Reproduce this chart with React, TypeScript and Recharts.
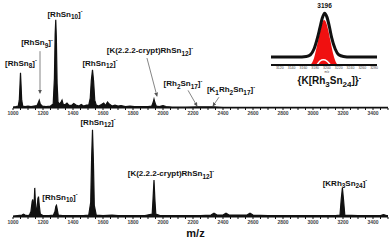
import React from "react";
import { AreaChart, Area, XAxis, YAxis, ReferenceDot, ReferenceLine, ComposedChart, Line } from "recharts";

// [m/z, relative intensity]
const upperTrace: [number, number][] = [
  [1000, 1], [1020, 1.5], [1035, 2], [1042, 8], [1047, 25], [1050, 36], [1053, 26], [1058, 8], [1065, 2],
  [1080, 1.5], [1100, 2], [1120, 1.5], [1140, 2], [1160, 2.5], [1168, 5], [1175, 8], [1182, 4], [1195, 2],
  [1220, 1.5], [1250, 2], [1268, 4], [1276, 30], [1281, 75], [1285, 90], [1289, 72], [1294, 25], [1300, 6],
  [1310, 4], [1320, 6], [1327, 8], [1334, 4], [1345, 3], [1360, 5], [1372, 3], [1390, 2.5], [1405, 4.5],
  [1420, 3], [1440, 2], [1455, 3.5], [1470, 2], [1490, 3], [1505, 3], [1515, 10], [1522, 28], [1530, 39],
  [1537, 28], [1545, 8], [1555, 3], [1570, 2], [1590, 3.5], [1605, 5], [1617, 2.5], [1630, 6], [1642, 4],
  [1660, 2], [1680, 3], [1700, 2], [1720, 2.5], [1750, 1.5], [1780, 2], [1810, 1.5], [1850, 1.5], [1900, 1.5],
  [1925, 2], [1933, 5], [1940, 9], [1947, 5], [1955, 2], [1975, 1.5], [2000, 2.5], [2020, 1.5], [2060, 1],
  [2150, 0.8], [2230, 1.2], [2340, 1.2], [2400, 0.6], [2600, 0.6], [3000, 0.6], [3500, 0.6],
];

const lowerTrace: [number, number][] = [
  [1000, 1], [1030, 1.5], [1060, 2], [1070, 3], [1080, 2], [1095, 1.5], [1110, 2], [1120, 6], [1128, 16],
  [1132, 18], [1137, 8], [1141, 14], [1145, 30], [1149, 16], [1155, 5], [1160, 8], [1166, 19], [1170, 21],
  [1175, 12], [1182, 3], [1200, 1.5], [1240, 1.5], [1270, 2], [1280, 6], [1286, 11], [1290, 12], [1295, 8],
  [1302, 2], [1330, 1.5], [1400, 1.5], [1470, 1.5], [1505, 2], [1518, 15], [1524, 60], [1530, 90], [1536, 58],
  [1542, 12], [1555, 2], [1600, 1.5], [1660, 2], [1700, 1.5], [1800, 1.5], [1880, 1.5], [1928, 3], [1934, 20],
  [1940, 38], [1946, 18], [1952, 3], [1980, 1.5], [2100, 1.5], [2250, 1.5], [2320, 2], [2340, 4], [2360, 2],
  [2400, 2], [2420, 4], [2440, 2], [2560, 2], [2580, 4], [2600, 2], [2700, 1.5], [2900, 1.5], [3000, 1.5],
  [3150, 1.5], [3180, 2], [3188, 18], [3196, 30], [3204, 17], [3212, 2], [3300, 1.5], [3450, 1.5],
  [3470, 2.5], [3490, 1.5], [3500, 1.5],
];

// inset: measured envelope (black) and simulated pattern (red)
const insetMeasured: [number, number][] = [
  [3105, 14], [3150, 14], [3165, 15], [3172, 18], [3178, 28], [3184, 48], [3188, 65], [3192, 82], [3196, 91],
  [3200, 84], [3204, 68], [3208, 48], [3214, 28], [3220, 18], [3228, 15], [3240, 14], [3285, 14],
];
const insetSimulated: [number, number][] = [
  [3172, 0], [3178, 12], [3184, 38], [3188, 58], [3192, 74], [3195, 79], [3198, 76], [3202, 62], [3206, 42],
  [3210, 22], [3214, 8], [3218, 0],
];
const insetNotch: [number, number][] = [[3183, 0], [3188, 7], [3194, 9], [3200, 7], [3206, 0]];

const minorTicks = Array.from({ length: 51 }, (_, i) => 1000 + i * 50);
const insetTicks = [3120, 3140, 3160, 3180, 3200, 3220, 3240, 3260, 3280];

const upperLabels = [
  { text: "[RhSn_{8}]^{-}", mz: 1053, at: 43 },
  { text: "[RhSn_{9}]^{-}", mz: 1160, at: 64 },
  { text: "[RhSn_{10}]^{-}", mz: 1347, at: 93 },
  { text: "[RhSn_{12}]^{-}", mz: 1580, at: 43 },
  { text: "[K(2.2.2-crypt)RhSn_{12}]^{-}", mz: 1913, at: 56 },
  { text: "[Rh_{2}Sn_{17}]^{-}", mz: 2133, at: 22 },
  { text: "[K_{1}Rh_{2}Sn_{17}]^{-}", mz: 2453, at: 16 },
];
const upperArrows = [
  { from: [1180, 58], to: [1180, 15] },
  { from: [1893, 51], to: [1960, 12] },
  { from: [2167, 18], to: [2227, 2] },
  { from: [2373, 11], to: [2333, 2] },
];
const lowerLabels = [
  { text: "[RhSn_{10}]^{-}", mz: 1313, at: 17.5 },
  { text: "[RhSn_{12}]^{-}", mz: 1567, at: 95 },
  { text: "[K(2.2.2-crypt)RhSn_{12}]^{-}", mz: 2053, at: 42 },
  { text: "[KRh_{3}Sn_{24}]^{-}", mz: 3213, at: 32 },
];

const toPoints = (arr: [number, number][]) => arr.map(([mz, i]) => ({ mz, i }));
const FONT = "Arial, 'Liberation Sans', sans-serif";

function Chem({ x, y, text, size = 8 }: { x: number; y: number; text: string; size?: number }) {
  const parts = text.split(/(_\{[^}]*\}|\^\{[^}]*\})/).filter(Boolean);
  let shift = 0;
  const spans = parts.map((p, k) => {
    let target = 0;
    let content = p;
    let fs = size;
    if (p.startsWith("_{")) {
      target = size * 0.3;
      content = p.slice(2, -1);
      fs = size * 0.8;
    } else if (p.startsWith("^{")) {
      target = -size * 0.45;
      content = p.slice(2, -1);
      fs = size * 0.7;
    }
    const dy = target - shift;
    shift = target;
    return (
      <tspan key={k} dy={dy} fontSize={fs}>
        {content}
      </tspan>
    );
  });
  return (
    <text x={x} y={y} textAnchor="middle" fontFamily={FONT} fontWeight="bold" fontSize={size} fill="#111">
      {spans}
    </text>
  );
}

const tickStyle = { fontSize: 5, fill: "#444", fontFamily: FONT, fontWeight: "bold" as const };
const fmtMain = (v: number) => (v % 200 === 0 && v <= 3400 ? String(v) : "");

function arrowShape(p: any) {
  return <line x1={p.x1} y1={p.y1} x2={p.x2} y2={p.y2} stroke="#777" strokeWidth={0.9} markerEnd="url(#ah)" />;
}

function Spectrum({ data, labels, arrows, height, top, axisHeight, showMz }: any) {
  return (
    <AreaChart width={392} height={height} data={toPoints(data)} margin={{ top, right: 4, left: 13, bottom: 0 }}>
      <XAxis
        dataKey="mz"
        type="number"
        domain={[1000, 3500]}
        ticks={minorTicks}
        interval={0}
        tickFormatter={fmtMain}
        tick={tickStyle}
        tickSize={2}
        tickMargin={1}
        height={axisHeight}
        stroke="#111"
        axisLine={{ stroke: "#111", strokeWidth: 1.2 }}
        label={showMz ? { value: "m/z", position: "insideBottom", offset: 3, dx: -5, fontSize: 11, fontWeight: "bold", fill: "#111", fontFamily: FONT } : undefined}
      />
      <YAxis hide domain={[0, 100]} />
      <Area dataKey="i" type="linear" stroke="#111" strokeWidth={1.2} fill="#111" fillOpacity={1} isAnimationActive={false} />
      {arrows.map((a: any, k: number) => (
        <ReferenceLine
          key={"a" + k}
          segment={[{ x: a.from[0], y: a.from[1] }, { x: a.to[0], y: a.to[1] }]}
          shape={arrowShape}
        />
      ))}
      {labels.map((l: any, k: number) => (
        <ReferenceDot key={"l" + k} x={l.mz} y={l.at} r={0} shape={(p: any) => <Chem x={p.cx} y={p.cy} text={l.text} />} />
      ))}
    </AreaChart>
  );
}

export default function App() {
  return (
    <div style={{ position: "absolute", left: 0, top: 0, width: 392, height: 240, background: "#fff", overflow: "hidden" }}>
      <svg width={0} height={0} style={{ position: "absolute" }}>
        <defs>
          <marker id="ah" markerWidth={4} markerHeight={4} refX={3.5} refY={2} orient="auto" markerUnits="userSpaceOnUse">
            <path d="M0,0 L4,2 L0,4 Z" fill="#555" />
          </marker>
        </defs>
      </svg>
      <div style={{ position: "absolute", left: 0, top: 0 }}>
        <Spectrum data={upperTrace} labels={upperLabels} arrows={upperArrows} height={120} top={10} axisHeight={12} showMz={false} />
      </div>
      <div style={{ position: "absolute", left: 0, top: 112 }}>
        <Spectrum data={lowerTrace} labels={lowerLabels} arrows={[]} height={128} top={8} axisHeight={23} showMz />
      </div>
      <div style={{ position: "absolute", left: 250, top: 0 }}>
        <ComposedChart width={142} height={92} margin={{ top: 8, right: 15, left: 21, bottom: 0 }}>
          <XAxis
            dataKey="mz"
            type="number"
            domain={[3105, 3285]}
            ticks={insetTicks}
            interval={0}
            tick={{ fontSize: 3.5, fill: "#444", fontFamily: FONT }}
            tickSize={1}
            tickMargin={1}
            height={27}
            axisLine={{ stroke: "#111", strokeWidth: 2.2 }}
            stroke="#111"
            allowDuplicatedCategory={false}
          />
          <YAxis hide domain={[0, 100]} />
          <Area data={toPoints(insetSimulated)} dataKey="i" type="monotone" stroke="none" fill="#f01010" fillOpacity={1} isAnimationActive={false} />
          <Line data={toPoints(insetNotch)} dataKey="i" type="monotone" stroke="#fff" strokeWidth={1.5} dot={false} isAnimationActive={false} />
          <Line data={toPoints(insetMeasured)} dataKey="i" type="monotone" stroke="#111" strokeWidth={3} dot={false} isAnimationActive={false} />
          <ReferenceDot x={3196} y={91} r={0} shape={(p: any) => (
            <text x={p.cx} y={p.cy - 5} textAnchor="middle" fontFamily={FONT} fontWeight="bold" fontSize={6.5} fill="#111">3196</text>
          )} />
          <ReferenceDot x={3200} y={0} r={0} shape={(p: any) => (
            <text x={p.cx} y={p.cy + 8} textAnchor="middle" fontFamily={FONT} fontSize={3} fill="#444">m/z</text>
          )} />
          <ReferenceDot x={3204} y={0} r={0} shape={(p: any) => <Chem x={p.cx} y={p.cy + 19} text="{K[Rh_{3}Sn_{24}]}^{-}" size={10} />} />
        </ComposedChart>
      </div>
    </div>
  );
}
